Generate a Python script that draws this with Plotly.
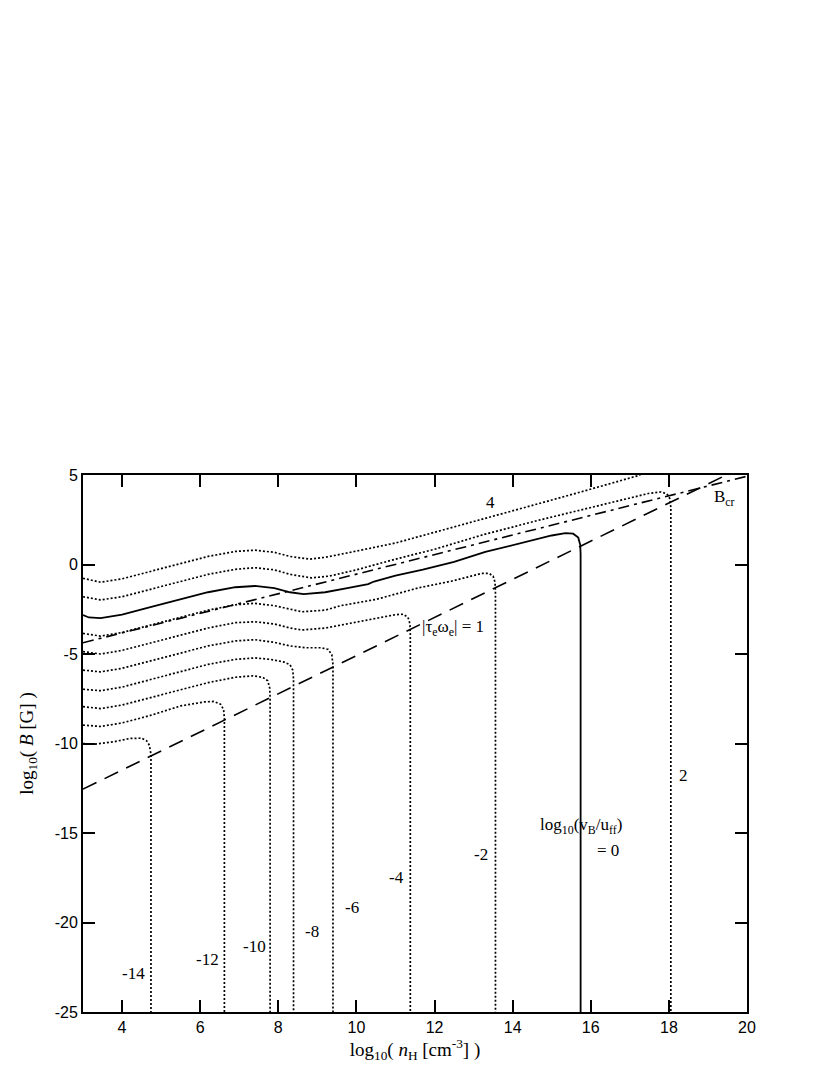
import plotly.graph_objects as go

SERIF = "Liberation Serif, Times New Roman, serif"
SANS = "Liberation Sans, Arial, sans-serif"
BLACK = "#000000"

# ── contour lines of log10(v_B/u_ff) ────────────────────────────────
X_P4 = [3.0, 3.45, 4.0, 4.7, 5.5, 6.2, 6.9, 7.4, 7.9, 8.3, 8.8, 9.2, 10.0, 11.0, 12.0, 13.3, 14.7, 15.74, 17.27]
Y_P4 = [-0.77, -0.99, -0.8, -0.4, 0.05, 0.45, 0.73, 0.8, 0.68, 0.45, 0.3, 0.4, 0.75, 1.2, 1.8, 2.6, 3.42, 4.05, 5.0]

X_P2 = [3.0, 3.45, 4.0, 4.7, 5.5, 6.2, 6.9, 7.4, 7.9, 8.3, 8.85, 9.3, 10.0, 11.0, 12.0, 13.3, 14.7, 15.74, 16.8, 17.5, 17.8, 17.95, 18.02, 18.05, 18.05]
Y_P2 = [-1.8, -1.98, -1.8, -1.4, -0.95, -0.55, -0.27, -0.18, -0.3, -0.55, -0.75, -0.65, -0.3, 0.3, 0.85, 1.7, 2.49, 3.04, 3.6, 3.98, 4.05, 3.95, 3.7, 3.2, -25.0]

X_0 = [3.0, 3.15, 3.45, 4.0, 4.7, 5.5, 6.2, 6.9, 7.4, 7.9, 8.3, 8.65, 9.2, 9.8, 10.3, 10.45, 11.0, 11.7, 12.5, 13.3, 14.2, 15.0, 15.35, 15.55, 15.68, 15.73, 15.74, 15.74]
Y_0 = [-2.82, -2.96, -3.0, -2.8, -2.4, -1.95, -1.55, -1.27, -1.2, -1.32, -1.55, -1.66, -1.55, -1.3, -1.1, -0.95, -0.62, -0.28, 0.15, 0.7, 1.2, 1.62, 1.75, 1.72, 1.5, 1.1, 0.6, -25.0]

X_M2 = [3.0, 3.45, 4.0, 4.7, 5.5, 6.2, 6.9, 7.4, 7.9, 8.3, 8.6, 9.2, 9.6, 10.5, 11.6, 12.5, 13.2, 13.4, 13.5, 13.55, 13.56, 13.56]
Y_M2 = [-3.85, -4.0, -3.8, -3.4, -2.95, -2.55, -2.25, -2.17, -2.3, -2.5, -2.64, -2.55, -2.3, -1.95, -1.3, -0.9, -0.5, -0.5, -0.65, -1.0, -1.6, -25.0]

X_M4 = [3.0, 3.45, 4.0, 4.7, 5.5, 6.2, 6.9, 7.4, 7.9, 8.3, 8.6, 9.2, 9.8, 10.5, 11.0, 11.2, 11.32, 11.37, 11.38, 11.38]
Y_M4 = [-4.87, -5.0, -4.8, -4.4, -3.95, -3.55, -3.25, -3.2, -3.32, -3.55, -3.66, -3.55, -3.3, -3.0, -2.8, -2.78, -2.95, -3.3, -3.9, -25.0]

X_M6 = [3.0, 3.45, 4.0, 4.7, 5.5, 6.2, 6.9, 7.4, 7.9, 8.3, 8.7, 9.1, 9.28, 9.37, 9.4, 9.4]
Y_M6 = [-5.9, -6.0, -5.8, -5.4, -4.95, -4.55, -4.27, -4.2, -4.35, -4.55, -4.65, -4.65, -4.75, -5.05, -5.6, -25.0]

X_M8 = [3.0, 3.45, 4.0, 4.7, 5.5, 6.2, 6.9, 7.4, 7.8, 8.15, 8.3, 8.37, 8.39, 8.39]
Y_M8 = [-6.97, -7.05, -6.85, -6.45, -5.98, -5.58, -5.3, -5.22, -5.3, -5.45, -5.6, -5.9, -6.4, -25.0]

X_M10 = [3.0, 3.45, 4.0, 4.7, 5.5, 6.2, 6.9, 7.35, 7.6, 7.73, 7.78, 7.79, 7.79]
Y_M10 = [-7.94, -8.05, -7.85, -7.45, -7.0, -6.6, -6.3, -6.22, -6.3, -6.5, -6.9, -7.4, -25.0]

X_M12 = [3.0, 3.45, 4.0, 4.7, 5.5, 6.1, 6.35, 6.52, 6.6, 6.62, 6.62]
Y_M12 = [-8.97, -9.05, -8.85, -8.45, -7.9, -7.68, -7.65, -7.8, -8.1, -8.6, -25.0]

X_M14 = [3.0, 3.3, 3.8, 4.2, 4.5, 4.63, 4.7, 4.74, 4.74]
Y_M14 = [-10.0, -10.04, -9.9, -9.72, -9.7, -9.85, -10.1, -10.6, -25.0]

# ── straight reference lines ─────────────────────────────────────────
BCR_X = [3.0, 19.47]      # B_cr (dashed)
BCR_Y = [-12.55, 5.0]
HALL_X = [3.0, 20.0]      # |tau_e omega_e| = 1 (dash-dot)
HALL_Y = [-4.37, 4.93]

X_TICKS = [4, 6, 8, 10, 12, 14, 16, 18, 20]
Y_TICKS = [-25, -20, -15, -10, -5, 0, 5]

DOTTED = [(X_P4, Y_P4), (X_P2, Y_P2), (X_M2, Y_M2), (X_M4, Y_M4), (X_M6, Y_M6),
          (X_M8, Y_M8), (X_M10, Y_M10), (X_M12, Y_M12), (X_M14, Y_M14)]

fig = go.Figure()

for xs, ys in DOTTED:
    fig.add_trace(go.Scatter(x=xs, y=ys, mode="lines",
                             line=dict(color=BLACK, width=1.7, dash="2px,2px")))

fig.add_trace(go.Scatter(x=X_0, y=Y_0, mode="lines",
                         line=dict(color=BLACK, width=1.8)))
fig.add_trace(go.Scatter(x=BCR_X, y=BCR_Y, mode="lines",
                         line=dict(color=BLACK, width=1.6, dash="15px,9px")))
fig.add_trace(go.Scatter(x=HALL_X, y=HALL_Y, mode="lines",
                         line=dict(color=BLACK, width=1.6, dash="11px,5px,3px,5px")))

# ── labels ───────────────────────────────────────────────────────────
labels = [
    (13.44, 3.44, "4"),
    (19.1, 3.7, "B<sub>cr</sub>"),
    (12.48, -3.55, "|τ<sub>e</sub>ω<sub>e</sub>| = 1"),
    (18.37, -11.76, "2"),
    (15.74, -14.6, "log<sub>10</sub>(v<sub>B</sub>/u<sub>ff</sub>)"),
    (16.45, -15.95, "= 0"),
    (13.18, -16.2, "-2"),
    (11.03, -17.46, "-4"),
    (9.88, -19.15, "-6"),
    (8.86, -20.5, "-8"),
    (7.4, -21.35, "-10"),
    (6.18, -22.04, "-12"),
    (4.28, -22.84, "-14"),
]
for x, y, t in labels:
    fig.add_annotation(x=x, y=y, text=t, showarrow=False,
                       xanchor="left" if t.startswith("B") else "center",
                       font=dict(family=SERIF, size=17, color=BLACK))

axis_common = dict(
    showline=True, linecolor=BLACK, linewidth=2, mirror="allticks",
    ticks="inside", ticklen=12, tickwidth=1.5, tickcolor=BLACK,
    showgrid=False, zeroline=False,
    tickfont=dict(family=SANS, size=16, color=BLACK),
)

# page body adds an 8px offset, so margins are shifted to compensate
fig.update_layout(
    width=830, height=1075,
    paper_bgcolor="white", plot_bgcolor="white",
    showlegend=False,
    margin=dict(l=75, r=91, t=467, b=71),
    xaxis=dict(range=[3, 20], tickvals=X_TICKS, ticktext=[str(v) for v in X_TICKS],
               title=dict(text="log<sub>10</sub>( <i>n</i><sub>H</sub> [cm<sup>-3</sup>] )",
                          font=dict(family=SERIF, size=19, color=BLACK), standoff=4),
               **axis_common),
    yaxis=dict(range=[-25, 5], tickvals=Y_TICKS, ticktext=[str(v) for v in Y_TICKS],
               title=dict(text="log<sub>10</sub>( <i>B</i> [G] )",
                          font=dict(family=SERIF, size=19, color=BLACK), standoff=16),
               **axis_common),
)

fig.write_html("out.html")
